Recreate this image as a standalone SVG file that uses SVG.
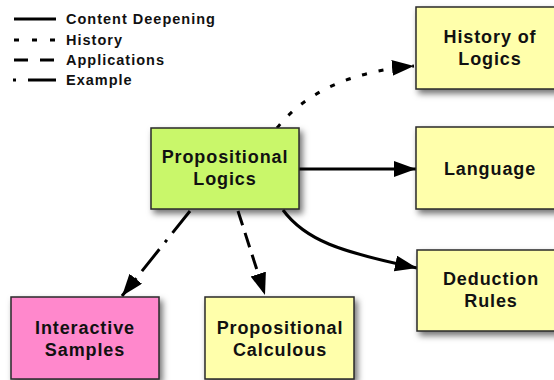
<svg xmlns="http://www.w3.org/2000/svg" width="554" height="380" viewBox="0 0 554 380">
  <style>
    .box { stroke: #2a2a2a; stroke-width: 1.5; filter: url(#shadow); }
    .green { fill: #c9f76b; }
    .yellow { fill: #ffffab; }
    .pink { fill: #ff88cc; }
    .label { font-family: "Liberation Sans", Arial, sans-serif; font-weight: bold; font-size: 18px; letter-spacing: 0.9px; fill: #111; text-anchor: middle; }
    .legend { font-family: "Liberation Sans", Arial, sans-serif; font-weight: bold; font-size: 14.5px; letter-spacing: 1px; fill: #111; }
    .edge { fill: none; stroke: #000; stroke-width: 3; }
    .solid { }
    .dotted { stroke-dasharray: 5 12; }
    .dashed { stroke-dasharray: 15 8; }
    .dashdot { stroke-dasharray: 28 9 3 9; }
    .arrow { marker-end: url(#head); }
  </style>
  <defs>
    <filter id="shadow" x="-20%" y="-20%" width="150%" height="160%">
      <feDropShadow dx="3" dy="4" stdDeviation="3" flood-color="#000" flood-opacity="0.55"/>
    </filter>
    <marker id="head" markerUnits="userSpaceOnUse" markerWidth="24" markerHeight="18" refX="22" refY="8" orient="auto">
      <path d="M0,0 L22,8 L0,16 Z" fill="#000"/>
    </marker>
  </defs>

  <!-- legend -->
  <g id="legend">
    <line class="edge solid" x1="14" y1="19" x2="56" y2="19"/>
    <text class="legend" x="66" y="24">Content Deepening</text>
    <line class="edge" x1="14" y1="40" x2="56" y2="40" stroke-dasharray="5 13"/>
    <text class="legend" x="66" y="45">History</text>
    <line class="edge" x1="14" y1="60" x2="56" y2="60" stroke-dasharray="14 12"/>
    <text class="legend" x="66" y="65">Applications</text>
    <line class="edge" x1="13" y1="80" x2="56" y2="80" stroke-dasharray="3 12 28"/>
    <text class="legend" x="66" y="85">Example</text>
  </g>

  <!-- connectors -->
  <g id="connectors">
    <path class="edge dotted arrow" d="M277,128 Q320,74 414,66"/>
    <path class="edge solid arrow" d="M299,169 L416,169"/>
    <path class="edge solid arrow" d="M283,210 C305,240 340,252 417,268"/>
    <path class="edge dashdot arrow" d="M190,211 L122,296"/>
    <path class="edge dashed arrow" d="M238,211 L265,295"/>
  </g>

  <!-- nodes -->
  <g id="propositional-logics">
    <rect class="box green" x="151" y="128" width="148" height="81"/>
    <text class="label" x="225" y="163">Propositional</text>
    <text class="label" x="225" y="185">Logics</text>
  </g>
  <g id="history-of-logics">
    <rect class="box yellow" x="416" y="7" width="148" height="82"/>
    <text class="label" x="490" y="43">History of</text>
    <text class="label" x="490" y="65">Logics</text>
  </g>
  <g id="language">
    <rect class="box yellow" x="416" y="127" width="148" height="82"/>
    <text class="label" x="490" y="175">Language</text>
  </g>
  <g id="deduction-rules">
    <rect class="box yellow" x="417" y="250" width="148" height="81"/>
    <text class="label" x="491" y="285">Deduction</text>
    <text class="label" x="491" y="307">Rules</text>
  </g>
  <g id="interactive-samples">
    <rect class="box pink" x="11" y="297" width="148" height="82"/>
    <text class="label" x="85" y="334">Interactive</text>
    <text class="label" x="85" y="356">Samples</text>
  </g>
  <g id="propositional-calculous">
    <rect class="box yellow" x="205" y="297" width="149" height="82"/>
    <text class="label" x="280" y="334">Propositional</text>
    <text class="label" x="280" y="356">Calculous</text>
  </g>
</svg>
